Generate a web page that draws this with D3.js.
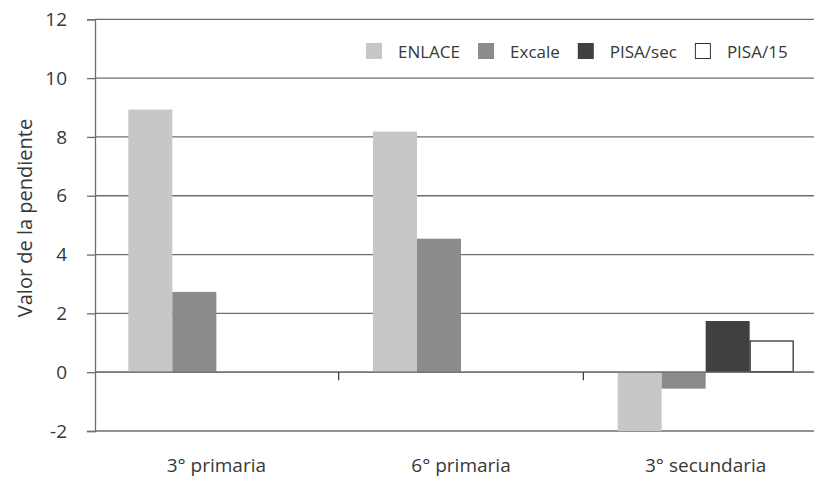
<!DOCTYPE html>
<html>
<head>
<meta charset="utf-8">
<script src="https://cdn.jsdelivr.net/npm/d3@7"></script>
<style>
  html, body { margin: 0; padding: 0; background: #fff; }
  svg { display: block; }
  text { font-family: "Open Sans", "Noto Sans", sans-serif; fill: #383838; font-weight: 400; }
</style>
</head>
<body>
<svg id="chart" width="814" height="479"></svg>
<script>
// ---- data ----
const categories = ["3° primaria", "6° primaria", "3° secundaria"];
const series = ["ENLACE", "Excale", "PISA/sec", "PISA/15"];
const enlace  = [8.93, 8.18, -2.0];
const excale  = [2.73, 4.54, -0.56];
const pisaSec = [null, null, 1.74];
const pisa15  = [null, null, 1.06];
const yTicks = [-2, 0, 2, 4, 6, 8, 10, 12];
const yTickLabels = ["-2", "0", "2", "4", "6", "8", "10", "12"];
const yTitle = "Valor de la pendiente";

const seriesValues = [enlace, excale, pisaSec, pisa15];
const fills   = ["#c6c7c9", "#8a8b8d", "#404040", "#ffffff"];
const strokes = ["none", "none", "none", "#333"];

// ---- layout ----
const svg = d3.select("#chart");
const axisX = 95;
const plotRight = 828;   // plot extends beyond visible area (clipped as in original)
const y = d3.scaleLinear().domain([-2, 12]).range([431, 19.3]);
const x0 = d3.scaleBand().domain(categories).range([94, plotRight]).paddingInner(0).paddingOuter(0);
const x1 = d3.scaleBand().domain(series).range([0, x0.step()]).paddingInner(0).paddingOuter(0.78);

// gridlines
svg.append("g").selectAll("line").data(yTicks).join("line")
  .attr("x1", axisX).attr("x2", 814)
  .attr("y1", d => y(d)).attr("y2", d => y(d))
  .attr("stroke", "#6e6e6e").attr("stroke-width", 1.3);

// y axis
const yAxis = d3.axisLeft(y).tickValues(yTicks).tickSize(8).tickPadding(20)
  .tickFormat((d, i) => yTickLabels[i]);
const gy = svg.append("g").attr("transform", `translate(${axisX},0)`).call(yAxis);
gy.select(".domain").attr("stroke", "#6e6e6e").attr("stroke-width", 1.3);
gy.selectAll(".tick line").attr("stroke", "#6e6e6e").attr("stroke-width", 1.3);
gy.selectAll(".tick text").attr("font-size", 19).attr("font-family", "'Open Sans', sans-serif")
  .attr("font-weight", 400).attr("fill", "#383838");

// bars
const groups = svg.append("g").selectAll("g").data(categories).join("g")
  .attr("transform", d => `translate(${x0(d)},0)`);
groups.selectAll("rect")
  .data((c, ci) => series.map((s, si) => ({ s, si, v: seriesValues[si][ci] })).filter(d => d.v != null))
  .join("rect")
  .attr("x", d => x1(d.s) + (d.si === 3 ? 0.5 : 0))
  .attr("width", d => x1.bandwidth() - (d.si === 3 ? 1 : 0))
  .attr("y", d => y(Math.max(0, d.v)))
  .attr("height", d => Math.abs(y(d.v) - y(0)) - (d.si === 3 ? 0.5 : 0))
  .attr("fill", d => fills[d.si])
  .attr("stroke", d => strokes[d.si])
  .attr("stroke-width", 1.3);

// zero line on top + category separator ticks
svg.append("line").attr("x1", axisX).attr("x2", 814).attr("y1", y(0)).attr("y2", y(0))
  .attr("stroke", "#6e6e6e").attr("stroke-width", 1.3);
const gx = svg.append("g").attr("transform", `translate(0,${y(0)})`);
gx.selectAll("line").data(categories.slice(1)).join("line")
  .attr("x1", d => x0(d)).attr("x2", d => x0(d))
  .attr("y1", 0).attr("y2", 8)
  .attr("stroke", "#333").attr("stroke-width", 1.2);

// category labels
svg.append("g").attr("transform", `translate(0,472)`)
  .selectAll("text").data(categories).join("text")
  .attr("x", d => x0(d) + x0.bandwidth() / 2)
  .attr("text-anchor", "middle")
  .attr("font-size", 19)
  .text(d => d);

// y title
svg.append("text")
  .attr("transform", "translate(32,218) rotate(-90)")
  .attr("text-anchor", "middle")
  .attr("font-size", 20)
  .text(yTitle);

// legend
const legend = svg.append("g");
let lx = 366;
series.forEach((s, i) => {
  legend.append("rect")
    .attr("x", lx + (i === 3 ? 0.5 : 0)).attr("y", 43 + (i === 3 ? 0.5 : 0))
    .attr("width", 16 - (i === 3 ? 1 : 0)).attr("height", 16 - (i === 3 ? 1 : 0))
    .attr("fill", fills[i]).attr("stroke", strokes[i]).attr("stroke-width", 1);
  const t = legend.append("text")
    .attr("x", lx + 16 + 16).attr("y", 58)
    .attr("font-size", 17)
    .text(s);
  lx = lx + 32 + t.node().getComputedTextLength() + 18;
});
</script>
</body>
</html>
